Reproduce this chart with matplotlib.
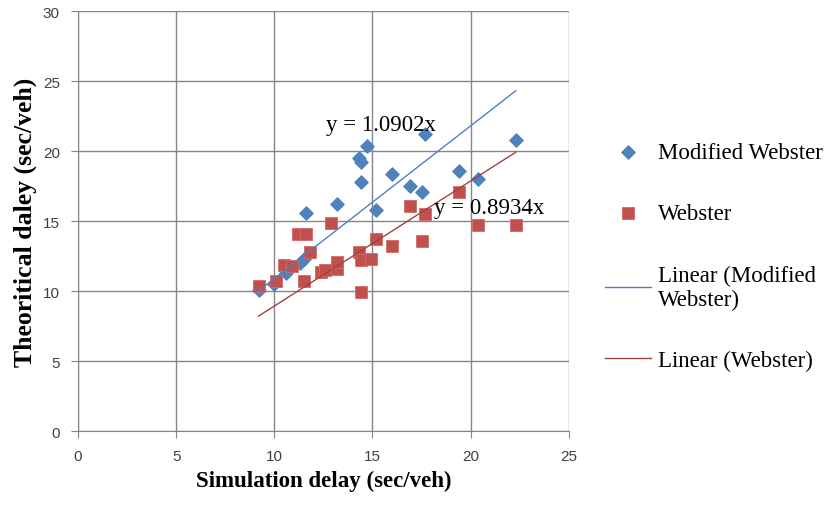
import matplotlib
matplotlib.use("Agg")
import matplotlib.pyplot as plt
import numpy as np

# Datos
sim_modificado = [9.2, 10.0, 10.6, 11.3, 11.5, 11.6, 13.2, 14.3, 14.4, 14.4,
                  14.7, 15.2, 16.0, 16.9, 17.5, 17.7, 19.4, 20.4, 22.3]
teo_modificado = [10.1, 10.5, 11.3, 12.0, 12.3, 15.6, 16.2, 19.5, 19.2, 17.8,
                  20.4, 15.8, 18.4, 17.5, 17.1, 21.2, 18.6, 18.0, 20.8]

sim_webster = [9.2, 10.1, 10.5, 10.9, 11.2, 11.6, 11.8, 11.5, 12.9, 12.4,
               12.6, 13.2, 13.2, 14.3, 14.4, 14.9, 14.4, 15.2, 16.0, 16.9,
               17.5, 17.7, 19.4, 20.4, 22.3]
teo_webster = [10.4, 10.7, 11.9, 11.8, 14.1, 14.1, 12.8, 10.7, 14.9, 11.4,
               11.5, 11.6, 12.1, 12.8, 12.2, 12.3, 9.95, 13.7, 13.2, 16.05,
               13.6, 15.5, 17.05, 14.7, 14.7]

pend_modificado = 1.0902
pend_webster = 0.8934

azul = '#4F81BD'
rojo = '#C0504D'
gris = '#868686'

fig = plt.figure(figsize=(8.34, 5.06), dpi=100)
ax = fig.add_axes([0.0935, 0.146, 0.5885, 0.830])

ax.scatter(sim_modificado, teo_modificado, marker='D', s=45, color=azul,
           zorder=3, label='Modified Webster')
ax.scatter(sim_webster, teo_webster, marker='s', s=70, color=rojo,
           edgecolors='#D46A67', linewidths=0.6, zorder=4, label='Webster')

# Líneas de tendencia por el origen
xm = np.array([min(sim_modificado), max(sim_modificado)])
xw = np.array([min(sim_webster), max(sim_webster)])
ax.plot(xm, pend_modificado * xm, color=azul, lw=1.0, zorder=5,
        label='Linear (Modified\nWebster)')
ax.plot(xw, pend_webster * xw, color='#A0433F', lw=1.0, zorder=5,
        label='Linear (Webster)')

ax.text(12.65, 21.9, f'y = {pend_modificado}x', fontsize=16.5,
        family='Liberation Serif', va='center', ha='left', zorder=6)
ax.text(18.15, 16.0, f'y = {pend_webster}x', fontsize=16.5,
        family='Liberation Serif', va='center', ha='left', zorder=6)

ax.set_xlim(0, 25)
ax.set_ylim(0, 30)
ax.set_xticks(range(0, 26, 5))
ax.set_yticks(range(0, 31, 5))
ax.grid(True, color=gris, lw=1.0, zorder=0)
ax.set_axisbelow(True)
for lado in ['top', 'right']:
    ax.spines[lado].set_visible(False)
for lado in ['left', 'bottom']:
    ax.spines[lado].set_color(gris)
ax.tick_params(direction='out', length=5, color=gris, labelsize=11,
               labelcolor='#404040', pad=8)
for t in ax.get_xticklabels() + ax.get_yticklabels():
    t.set_family('Liberation Sans')

ax.set_xlabel('Simulation delay (sec/veh)', family='Liberation Serif',
              fontweight='bold', fontsize=16.5, labelpad=5)
ax.set_ylabel('Theoritical daley (sec/veh)', family='Liberation Serif',
              fontweight='bold', fontsize=18.5, labelpad=4)

leg = ax.legend(loc='upper left', bbox_to_anchor=(1.055, 0.71), frameon=False,
                prop={'family': 'Liberation Serif', 'size': 16.5},
                labelspacing=1.75, handlelength=2.0, handletextpad=0.3,
                borderaxespad=0)

fig.savefig('out.png', dpi=100)
